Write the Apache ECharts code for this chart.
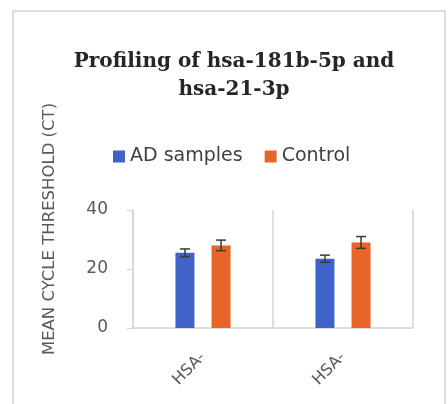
<!DOCTYPE html>
<html>
<head>
<meta charset="utf-8">
<script src="https://cdn.jsdelivr.net/npm/echarts@6/dist/echarts.min.js"></script>
<style>
html,body{margin:0;padding:0;background:#fff;}
#chart{width:448px;height:404px;}
</style>
</head>
<body>
<div id="chart"></div>
<script>
var categories = ['HSA-', 'HSA-'];
var seriesNames = ['AD samples', 'Control'];
var adValues = [25.5, 23.5];
var adErrors = [1.3, 1.2];
var controlValues = [28, 29];
var controlErrors = [1.8, 2];
var yTicks = [0, 20, 40];

var colors = ['#3F63C8', '#E8652A'];
var BAR_W = 19, BAR_GAP = '90%';

function errorSeries(values, errors, seriesIdx) {
  var data = values.map(function (v, i) { return [i, v, errors[i]]; });
  return {
    type: 'custom',
    name: seriesNames[seriesIdx] + ' error',
    data: data,
    z: 10,
    silent: true,
    renderItem: function (params, api) {
      var i = api.value(0), v = api.value(1), e = api.value(2);
      var layout = api.barLayout({ count: 2, barWidth: BAR_W, barGap: BAR_GAP });
      var off = layout[seriesIdx].offsetCenter;
      var hi = api.coord([i, v + e]);
      var lo = api.coord([i, v - e]);
      var x = hi[0] + off;
      var cw = 5;
      var st = { stroke: '#3a3a3a', lineWidth: 1.5 };
      return {
        type: 'group',
        children: [
          { type: 'line', shape: { x1: x, y1: hi[1], x2: x, y2: lo[1] }, style: st },
          { type: 'line', shape: { x1: x - cw, y1: hi[1], x2: x + cw, y2: hi[1] }, style: st },
          { type: 'line', shape: { x1: x - cw, y1: lo[1], x2: x + cw, y2: lo[1] }, style: st }
        ]
      };
    }
  };
}

var chart = echarts.init(document.getElementById('chart'), null, { renderer: 'canvas' });
chart.setOption({
  animation: false,
  backgroundColor: '#ffffff',
  color: colors,
  title: {
    text: 'Profiling of hsa-181b-5p and\nhsa-21-3p',
    left: 229,
    top: 43,
    textAlign: 'center',
    textStyle: {
      fontFamily: 'DejaVu Serif',
      fontWeight: 'bold',
      fontSize: 20,
      lineHeight: 28,
      color: '#262626'
    }
  },
  legend: {
    data: seriesNames,
    left: 108,
    top: 142,
    icon: 'rect',
    itemWidth: 12,
    itemHeight: 12,
    itemGap: 22,
    textStyle: { fontFamily: 'DejaVu Sans', fontSize: 19, color: '#404040' }
  },
  graphic: [
    {
      type: 'rect',
      shape: { x: 13, y: 11, width: 432, height: 420 },
      style: { fill: 'none', stroke: '#d4d4d4', lineWidth: 1.5 },
      z: -1
    },
    {
      type: 'text',
      x: 50,
      y: 229,
      rotation: Math.PI / 2,
      style: {
        text: 'MEAN CYCLE THRESHOLD (CT)',
        fontFamily: 'DejaVu Sans',
        fontSize: 16.5,
        fill: '#595959',
        align: 'center',
        verticalAlign: 'middle'
      }
    }
  ],
  grid: { left: 133, right: 35, top: 210, bottom: 76 },
  xAxis: {
    type: 'category',
    data: categories,
    axisLine: { show: true, lineStyle: { color: '#d4d4d4', width: 1.5 } },
    axisTick: { show: false },
    splitLine: { show: true, lineStyle: { color: '#d4d4d4', width: 1.5 } },
    axisLabel: {
      rotate: 45,
      margin: 27,
      fontFamily: 'DejaVu Sans',
      fontSize: 16,
      color: '#595959'
    }
  },
  yAxis: {
    type: 'value',
    min: yTicks[0],
    max: yTicks[yTicks.length - 1],
    interval: 20,
    axisLine: { show: true, lineStyle: { color: '#d4d4d4', width: 1.5 } },
    axisTick: { show: true, length: 6, lineStyle: { color: '#d4d4d4' } },
    splitLine: { show: false },
    axisLabel: {
      margin: 25,
      fontFamily: 'DejaVu Sans',
      fontSize: 17,
      color: '#595959'
    }
  },
  series: [
    { type: 'bar', name: seriesNames[0], data: adValues, barWidth: BAR_W, barGap: BAR_GAP, itemStyle: { color: colors[0] } },
    { type: 'bar', name: seriesNames[1], data: controlValues, barWidth: BAR_W, barGap: BAR_GAP, itemStyle: { color: colors[1] } },
    errorSeries(adValues, adErrors, 0),
    errorSeries(controlValues, controlErrors, 1)
  ]
});
</script>
</body>
</html>
